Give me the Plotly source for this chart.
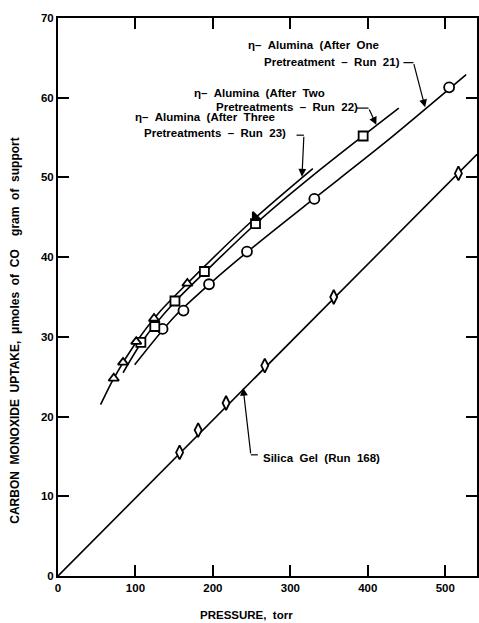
import plotly.graph_objects as go

# ---- measured data (pressure in torr, uptake in micromoles CO per gram) ----
silica_p = [157, 181, 217, 267, 356, 517]
silica_u = [15.5, 18.3, 21.7, 26.4, 35.0, 50.5]
silica_line_p = [0, 541]
silica_line_u = [0, 52.9]

run21_p = [135, 162, 195, 244, 331, 505]
run21_u = [31.0, 33.3, 36.6, 40.7, 47.3, 61.3]
run21_curve_p = [99, 150, 200, 250, 330, 420, 527]
run21_curve_u = [26.5, 32.5, 37.0, 41.1, 47.3, 54.2, 62.9]

run22_p = [107, 125, 151, 189, 255, 394]
run22_u = [29.3, 31.3, 34.5, 38.2, 44.2, 55.2]
run22_curve_p = [84, 110, 150, 200, 260, 340, 440]
run22_curve_u = [25.5, 29.6, 34.3, 39.1, 44.6, 51.1, 58.7]

run23_p = [72, 84, 101, 124, 167, 255]
run23_u = [24.8, 26.8, 29.4, 32.3, 36.7, 45.0]
run23_curve_p = [55, 72, 100, 130, 170, 250, 329]
run23_curve_u = [21.5, 24.8, 29.2, 33.0, 37.0, 44.5, 51.1]

x_ticks = [0, 100, 200, 300, 400, 500]
y_ticks = [0, 10, 20, 30, 40, 50, 60, 70]

FONT = "Liberation Sans, Arial, sans-serif"
INK = "black"
SP = "\u00a0\u00a0"  # wide word gap typical of typewriter-style lettering


def spaced(words):
    return SP.join(words)


fig = go.Figure()

line_style = dict(color=INK, width=1.6)
for px, py, shape in [
    (silica_line_p, silica_line_u, "linear"),
    (run21_curve_p, run21_curve_u, "spline"),
    (run22_curve_p, run22_curve_u, "spline"),
    (run23_curve_p, run23_curve_u, "spline"),
]:
    fig.add_trace(go.Scatter(x=px, y=py, mode="lines", line=dict(shape=shape, smoothing=0.8, **line_style),
                             hoverinfo="skip", showlegend=False))

marker_line = dict(color=INK, width=1.8)
fig.add_trace(go.Scatter(x=silica_p, y=silica_u, mode="markers", showlegend=False,
                         marker=dict(symbol="diamond-tall", size=10, color="white", line=marker_line)))
fig.add_trace(go.Scatter(x=run21_p, y=run21_u, mode="markers", showlegend=False,
                         marker=dict(symbol="circle", size=10, color="white", line=marker_line)))
fig.add_trace(go.Scatter(x=run22_p, y=run22_u, mode="markers", showlegend=False,
                         marker=dict(symbol="square", size=9, color="white", line=marker_line)))
tri_sym = ["triangle-up"] * (len(run23_p) - 1) + ["triangle-sw"]
tri_fill = ["white"] * (len(run23_p) - 1) + [INK]
fig.add_trace(go.Scatter(x=run23_p, y=run23_u, mode="markers", showlegend=False,
                         marker=dict(symbol=tri_sym, size=9, color=tri_fill, line=marker_line)))

# ---- curve labels with hooked leader arrows ----
labels = [
    # (text lines with anchor points, hook start x, hook corner (x, y), arrow tip (x, y))
    ([(["η–", "Alumina", "(After", "One"], 243, 66.6),
      (["Pretreatment", "–", "Run", "21)"], 263.5, 64.5)],
     446, (459, 64.4), (474, 58.8)),
    ([(["η–", "Alumina", "(After", "Two"], 173.5, 60.6),
      (["Pretreatments", "–", "Run", "22)"], 201.8, 58.8)],
     385, (401, 58.7), (411, 56.6)),
    ([(["η–", "Alumina", "(After", "Three"], 96.4, 57.6),
      (["Pretreatments", "–", "Run", "23)"], 108, 55.6)],
     308, (317.5, 55.3), (315, 50.1)),
    ([(["Silica", "Gel", "(Run", "168)"], 262, 14.8)],
     258, (249, 15.2), (239, 23.6)),
]

annotations = []
shapes = []
for lines, hook_x, corner, tip in labels:
    for words, tx, ty in lines:
        annotations.append(dict(x=tx, y=ty, xref="x", yref="y", text=spaced(words), showarrow=False,
                                xanchor="left", yanchor="middle",
                                font=dict(family=FONT, size=11.5, color=INK, weight="bold")))
    shapes.append(dict(type="line", xref="x", yref="y", x0=hook_x, y0=corner[1], x1=corner[0], y1=corner[1],
                       line=dict(color=INK, width=1.2)))
    annotations.append(dict(x=tip[0], y=tip[1], ax=corner[0], ay=corner[1], xref="x", yref="y",
                            axref="x", ayref="y", text="", showarrow=True, arrowhead=2, arrowsize=1.3,
                            arrowwidth=1.2, arrowcolor=INK, standoff=0, startstandoff=0))

# axis titles
annotations.append(dict(x=0.451, y=-0.07, xref="paper", yref="paper", text="PRESSURE,\u00a0 torr",
                        showarrow=False, xanchor="center", yanchor="middle",
                        font=dict(family=FONT, size=11.5, color=INK, weight="bold")))
annotations.append(dict(x=-0.102, y=0.44, xref="paper", yref="paper",
                        text=spaced(["CARBON", "MONOXIDE", "UPTAKE,", "μmoles", "of", "CO", "\u00a0\u00a0gram",
                                     "of", "support"]),
                        textangle=-90, showarrow=False, xanchor="center", yanchor="middle",
                        font=dict(family=FONT, size=12, color=INK, weight="bold")))

axis_common = dict(showline=True, linewidth=2, linecolor=INK, mirror="ticks", ticks="inside",
                   ticklen=11, tickwidth=2, tickcolor=INK, showgrid=False, zeroline=False,
                   tickfont=dict(family=FONT, size=11.5, color=INK, weight="bold"))

fig.update_layout(
    width=479, height=623,
    margin=dict(l=58, r=0, t=18, b=47),
    paper_bgcolor="white", plot_bgcolor="white",
    xaxis=dict(range=[0, 541], tickvals=x_ticks, **axis_common),
    yaxis=dict(range=[0, 70], tickvals=y_ticks, **axis_common),
    annotations=annotations,
    shapes=shapes,
    showlegend=False,
)

fig.write_html("out.html")
